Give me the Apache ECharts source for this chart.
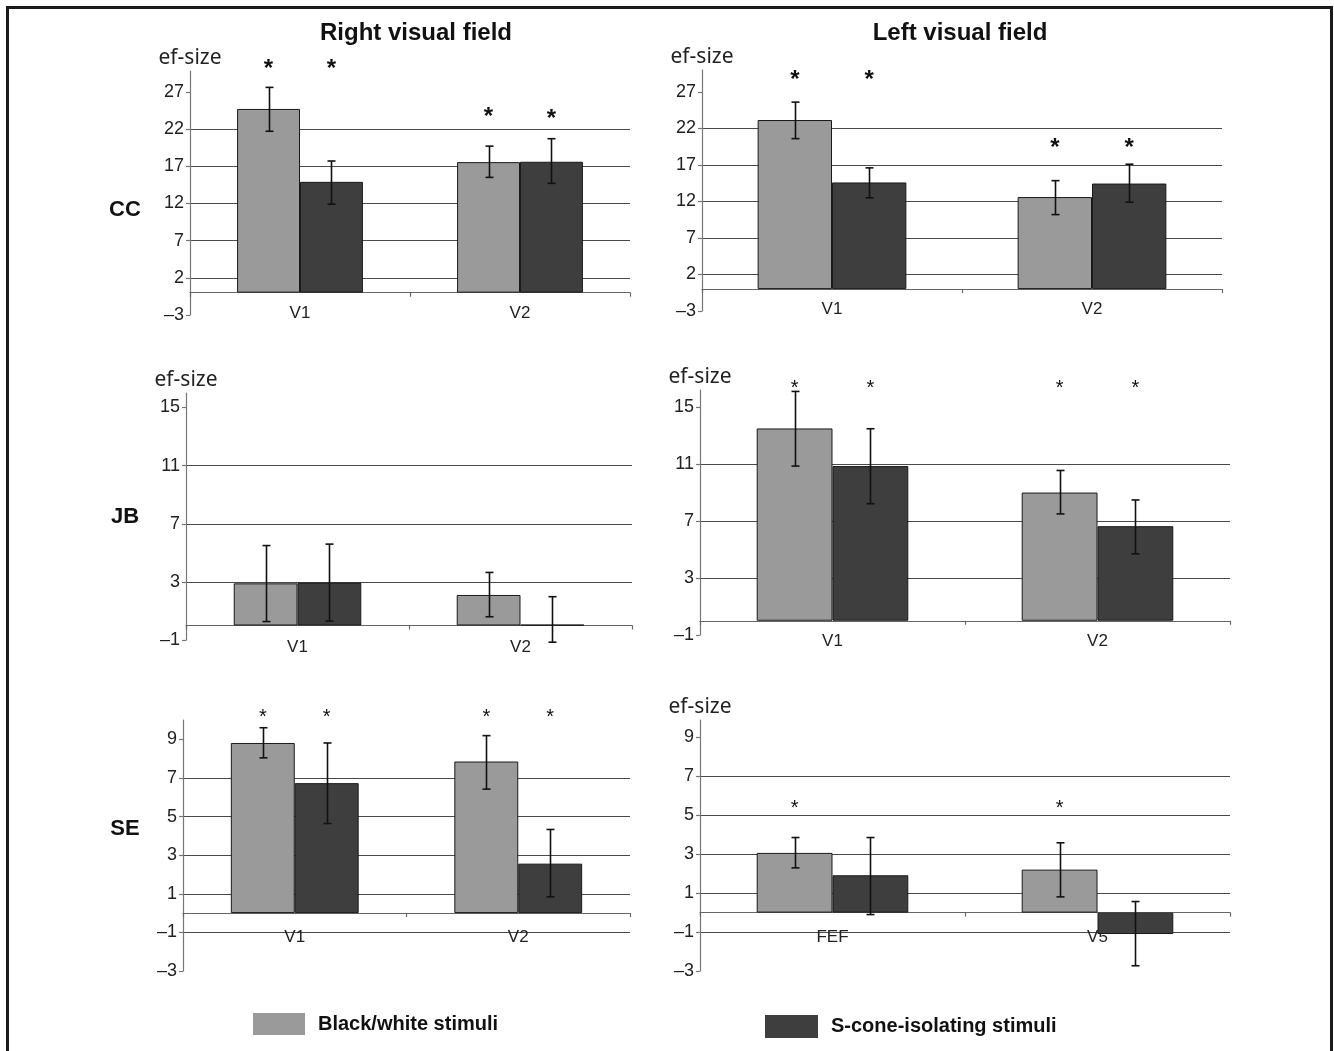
<!DOCTYPE html>
<html><head><meta charset="utf-8">
<script src="https://cdn.jsdelivr.net/npm/echarts@6/dist/echarts.min.js"></script>
<style>html,body{margin:0;padding:0;background:#fff}#c{width:1334px;height:1051px}</style>
</head><body><div id="c"></div>
<script>
// ---------- DATA ----------
const seriesNames = ['Black/white stimuli', 'S-cone-isolating stimuli'];

// CC – right visual field
const ccRightCats = ['V1', 'V2'];
const ccRightBW = [24.7, 17.55];
const ccRightBWLo = [21.7, 15.5];
const ccRightBWHi = [27.6, 19.7];
const ccRightS = [14.9, 17.6];
const ccRightSLo = [11.9, 14.7];
const ccRightSHi = [17.7, 20.7];
const ccRightStarBW = [30.7, 24.3];
const ccRightStarS = [30.7, 24.0];

// CC – left visual field
const ccLeftCats = ['V1', 'V2'];
const ccLeftBW = [23.15, 12.6];
const ccLeftBWLo = [20.6, 10.2];
const ccLeftBWHi = [25.6, 14.85];
const ccLeftS = [14.6, 14.45];
const ccLeftSLo = [12.5, 11.9];
const ccLeftSHi = [16.6, 17.1];
const ccLeftStarBW = [29.3, 20.0];
const ccLeftStarS = [29.3, 20.0];

// JB – right visual field
const jbRightCats = ['V1', 'V2'];
const jbRightBW = [2.9, 2.1];
const jbRightBWLo = [0.27, 0.6];
const jbRightBWHi = [5.5, 3.65];
const jbRightS = [2.95, 0.05];
const jbRightSLo = [0.3, -1.15];
const jbRightSHi = [5.6, 1.98];
const jbRightStarBW = [null, null];
const jbRightStarS = [null, null];

// JB – left visual field
const jbLeftCats = ['V1', 'V2'];
const jbLeftBW = [13.5, 9.0];
const jbLeftBWLo = [10.86, 7.5];
const jbLeftBWHi = [16.1, 10.55];
const jbLeftS = [10.86, 6.64];
const jbLeftSLo = [8.22, 4.7];
const jbLeftSHi = [13.48, 8.48];
const jbLeftStarBW = [16.6, 16.6];
const jbLeftStarS = [16.6, 16.6];

// SE – right visual field
const seRightCats = ['V1', 'V2'];
const seRightBW = [8.81, 7.85];
const seRightBWLo = [8.04, 6.42];
const seRightBWHi = [9.6, 9.19];
const seRightS = [6.73, 2.56];
const seRightSLo = [4.64, 0.84];
const seRightSHi = [8.81, 4.33];
const seRightStarBW = [10.37, 10.37];
const seRightStarS = [10.37, 10.37];

// SE – left visual field
const seLeftCats = ['FEF', 'V5'];
const seLeftBW = [3.07, 2.21];
const seLeftBWLo = [2.3, 0.81];
const seLeftBWHi = [3.86, 3.59];
const seLeftS = [1.92, -1.1];
const seLeftSLo = [-0.1, -2.73];
const seLeftSHi = [3.86, 0.57];
const seLeftStarBW = [5.57, 5.57];
const seLeftStarS = [null, null];

// tick labels
const ccTicks = [-3, 2, 7, 12, 17, 22, 27];
const jbTicks = [-1, 3, 7, 11, 15];
const seTicks = [-3, -1, 1, 3, 5, 7, 9];

// ---------- LAYOUT / STYLE ----------
const FONT = "'Liberation Sans', Arial, sans-serif";
const GREY = '#9a9a9a', DARK = '#3e3e3e';
const BAR_FRAC = 0.286;

const panels = [
  {grid:{left:190,top:71,width:440,height:244}, labelGap:12, cats:ccRightCats, bw:ccRightBW, bwLo:ccRightBWLo, bwHi:ccRightBWHi, s:ccRightS, sLo:ccRightSLo, sHi:ccRightSHi, starBW:ccRightStarBW, starS:ccRightStarS, ticks:ccTicks, min:-3, max:29.8, interval:5, name:'ef-size', star:{size:24, bold:true}},
  {grid:{left:702,top:70,width:520,height:241}, labelGap:12, cats:ccLeftCats, bw:ccLeftBW, bwLo:ccLeftBWLo, bwHi:ccLeftBWHi, s:ccLeftS, sLo:ccLeftSLo, sHi:ccLeftSHi, starBW:ccLeftStarBW, starS:ccLeftStarS, ticks:ccTicks, min:-3, max:30, interval:5, name:'ef-size', star:{size:24, bold:true}},
  {grid:{left:186,top:393,width:446,height:247}, labelGap:13, cats:jbRightCats, bw:jbRightBW, bwLo:jbRightBWLo, bwHi:jbRightBWHi, s:jbRightS, sLo:jbRightSLo, sHi:jbRightSHi, starBW:jbRightStarBW, starS:jbRightStarS, ticks:jbTicks, min:-1, max:16, interval:4, name:'ef-size', star:{size:20, bold:false}},
  {grid:{left:700,top:390,width:530,height:245}, labelGap:12, cats:jbLeftCats, bw:jbLeftBW, bwLo:jbLeftBWLo, bwHi:jbLeftBWHi, s:jbLeftS, sLo:jbLeftSLo, sHi:jbLeftSHi, starBW:jbLeftStarBW, starS:jbLeftStarS, ticks:jbTicks, min:-1, max:16.2, interval:4, name:'ef-size', star:{size:20, bold:false}},
  {grid:{left:183,top:720,width:447,height:251}, labelGap:16, cats:seRightCats, bw:seRightBW, bwLo:seRightBWLo, bwHi:seRightBWHi, s:seRightS, sLo:seRightSLo, sHi:seRightSHi, starBW:seRightStarBW, starS:seRightStarS, ticks:seTicks, min:-3, max:10, interval:2, name:'', star:{size:20, bold:false}},
  {grid:{left:700,top:720,width:530,height:251}, labelGap:16, cats:seLeftCats, bw:seLeftBW, bwLo:seLeftBWLo, bwHi:seLeftBWHi, s:seLeftS, sLo:seLeftSLo, sHi:seLeftSHi, starBW:seLeftStarBW, starS:seLeftStarS, ticks:seTicks, min:-3, max:9.9, interval:2, name:'ef-size', star:{size:20, bold:false}}
];

const fmt = v => (v < 0 ? '\u2013' + Math.abs(v) : String(v));

function errRender(params, api) {
  const cat = api.value(0), lo = api.value(1), hi = api.value(2), g = api.value(3);
  const band = api.size([1, 0])[0];
  const off = (g === 0 ? -1 : 1) * band * BAR_FRAC / 2;
  const pHi = api.coord([cat, hi]);
  const pLo = api.coord([cat, lo]);
  const x = Math.round(pHi[0] + off) + 0.5;
  const cap = 4;
  const st = {stroke:'#111', lineWidth:1.6};
  return {type:'group', children:[
    {type:'line', shape:{x1:x, y1:pHi[1], x2:x, y2:pLo[1]}, style:st},
    {type:'line', shape:{x1:x-cap, y1:pHi[1], x2:x+cap, y2:pHi[1]}, style:st},
    {type:'line', shape:{x1:x-cap, y1:pLo[1], x2:x+cap, y2:pLo[1]}, style:st}
  ]};
}

function makeStarRender(star) {
  return function(params, api) {
    const cat = api.value(0), y = api.value(1), g = api.value(2);
    const band = api.size([1, 0])[0];
    const off = (g === 0 ? -1 : 1) * band * BAR_FRAC / 2;
    const p = api.coord([cat, y]);
    return {type:'text', x: p[0] + off, y: p[1] + star.size * 0.22,
      style:{text:'*', fill:'#111', align:'center', verticalAlign:'middle',
        font:(star.bold ? 'bold ' : '') + star.size + 'px ' + FONT}};
  };
}

const grids = [], xAxes = [], yAxes = [], series = [];
panels.forEach((p, i) => {
  grids.push(Object.assign({containLabel:false}, p.grid));
  // category labels sit just below the zero line
  const zeroOffset = (0 - p.min) * p.grid.height / (p.max - p.min);
  xAxes.push({gridIndex:i, type:'category', data:p.cats, boundaryGap:true,
    axisLine:{show:true, onZero:true, lineStyle:{color:'#666', width:1.2}},
    axisTick:{show:true, length:4, alignWithLabel:false, lineStyle:{color:'#666', width:1.2}},
    axisLabel:{fontSize:17, color:'#222', margin:p.labelGap - zeroOffset, fontFamily:FONT},
    splitLine:{show:false}});
  yAxes.push({gridIndex:i, type:'value', min:p.min, max:p.max, interval:p.interval,
    name:p.name, nameLocation:'end', nameGap:2,
    nameTextStyle:{fontFamily:"'Noto Sans', sans-serif", fontSize:21, color:'#222', align:'center'},
    axisLine:{show:true, lineStyle:{color:'#777', width:1.2}},
    axisTick:{show:true, length:4, customValues:p.ticks, lineStyle:{color:'#777', width:1.2}},
    axisLabel:{customValues:p.ticks, formatter:fmt, fontSize:18, color:'#222', margin:6, fontFamily:FONT},
    splitLine:{show:true, showMinLine:false, showMaxLine:false, lineStyle:{color:'#4a4a4a', width:1.2}}});
  series.push({type:'bar', name:seriesNames[0], xAxisIndex:i, yAxisIndex:i, data:p.bw,
    barWidth:(BAR_FRAC*100)+'%', barGap:'0%',
    itemStyle:{color:GREY, borderColor:'#1a1a1a', borderWidth:1}, silent:true});
  series.push({type:'bar', name:seriesNames[1], xAxisIndex:i, yAxisIndex:i, data:p.s,
    barWidth:(BAR_FRAC*100)+'%', barGap:'0%',
    itemStyle:{color:DARK, borderColor:'#1a1a1a', borderWidth:1}, silent:true});
  const errData = [];
  p.cats.forEach((c, j) => {
    errData.push([j, p.bwLo[j], p.bwHi[j], 0]);
    errData.push([j, p.sLo[j], p.sHi[j], 1]);
  });
  series.push({type:'custom', xAxisIndex:i, yAxisIndex:i, data:errData, renderItem:errRender,
    encode:{x:0, y:1}, z:5, clip:false, silent:true});
  const starData = [];
  p.cats.forEach((c, j) => {
    if (p.starBW[j] != null) starData.push([j, p.starBW[j], 0]);
    if (p.starS[j] != null) starData.push([j, p.starS[j], 1]);
  });
  if (starData.length) series.push({type:'custom', xAxisIndex:i, yAxisIndex:i, data:starData,
    renderItem:makeStarRender(p.star), encode:{x:0, y:1}, z:6, clip:false, silent:true});
});

const boldText = (x, y, text, size, align) => ({type:'text', x, y,
  style:{text, font:'bold ' + size + 'px ' + FONT, fill:'#111', align:align || 'center', verticalAlign:'middle'}});

const graphics = [
  {type:'rect', shape:{x:7.5, y:7.5, width:1324, height:1100}, style:{fill:null, stroke:'#1a1a1a', lineWidth:3}, silent:true},
  boldText(416, 33, 'Right visual field', 24),
  boldText(960, 33, 'Left visual field', 24),
  boldText(125, 210, 'CC', 22),
  boldText(125, 517, 'JB', 22),
  boldText(125, 829, 'SE', 22),
  {type:'rect', shape:{x:253, y:1013, width:52, height:22}, style:{fill:GREY}},
  boldText(318, 1024, seriesNames[0], 20, 'left'),
  {type:'rect', shape:{x:765, y:1015, width:53, height:23}, style:{fill:DARK}},
  boldText(831, 1026, seriesNames[1], 20, 'left')
];

const chart = echarts.init(document.getElementById('c'), null, {renderer:'canvas'});
chart.setOption({
  backgroundColor:'#ffffff',
  animation:false,
  grid:grids, xAxis:xAxes, yAxis:yAxes, series:series,
  graphic:graphics
});
</script></body></html>
